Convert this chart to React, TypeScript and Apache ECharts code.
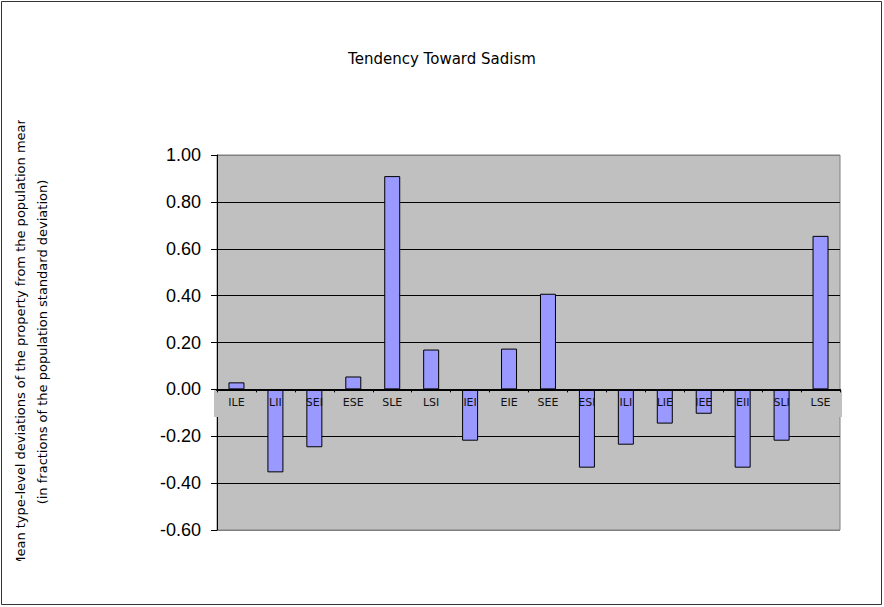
import React, { useEffect, useRef } from "react";
import * as echarts from "echarts";

const categories = ["ILE", "LII", "SEI", "ESE", "SLE", "LSI", "IEI", "EIE", "SEE", "ESI", "ILI", "LIE", "IEE", "EII", "SLI", "LSE"];
const values = [0.03, -0.354, -0.247, 0.055, 0.91, 0.17, -0.219, 0.174, 0.408, -0.334, -0.236, -0.146, -0.104, -0.334, -0.219, 0.655];
const yMin = -0.6;
const yMax = 1;
const yStep = 0.2;
const titleText = "Tendency Toward Sadism";
const yNameLine1 = "Mean type-level deviations of the property from the population mean";
const yNameLine2 = "(in fractions of the population standard deviation)";

export default function App() {
  const ref = useRef<HTMLDivElement>(null);
  useEffect(() => {
    if (!ref.current) return;
    const chart = echarts.init(ref.current, undefined, { renderer: "svg" });
    const gridTop = 155;
    const gridBottom = 77;
    const gridH = 607 - gridTop - gridBottom;
    const zeroOffset = -((0 - yMin) / (yMax - yMin)) * gridH;
    chart.setOption({
      animation: false,
      backgroundColor: "#ffffff",
      title: {
        text: titleText,
        left: 437,
        textAlign: "center",
        top: 46,
        textStyle: { fontFamily: "DejaVu Sans", fontSize: 15, fontWeight: "normal", color: "#000" },
      },
      grid: {
        left: 217,
        right: 44,
        top: gridTop,
        bottom: gridBottom,
        show: true,
        backgroundColor: "#c0c0c0",
        borderColor: "#808080",
        borderWidth: 1,
      },
      xAxis: {
        type: "category",
        data: categories,
        z: 3,
        offset: zeroOffset,
        axisLine: { onZero: false, lineStyle: { color: "#000", width: 2 } },
        axisTick: { show: true, length: 3, lineStyle: { color: "#000" } },
        axisLabel: { fontFamily: "DejaVu Sans", fontSize: 11, color: "#111", margin: 8, interval: 0 },
      },
      yAxis: {
        type: "value",
        min: yMin,
        max: yMax,
        interval: yStep,
        z: 0,
        axisLine: { show: true, lineStyle: { color: "#000", width: 1 } },
        axisTick: { show: true, length: 6, lineStyle: { color: "#000" } },
        axisLabel: {
          fontFamily: "Liberation Sans",
          fontSize: 18,
          color: "#000",
          margin: 16,
          formatter: (v: number) => v.toFixed(2),
        },
        splitLine: {
          show: true,
          lineStyle: {
            color: ["#808080", "#000", "#000", "#000", "#000", "#000", "#000", "#000", "#808080"],
            width: 1,
          },
        },
      },
      series: [
        {
          type: "bar",
          data: values,
          barWidth: 16,
          z: 2,
          itemStyle: { color: "#9999ff", borderColor: "#000", borderWidth: 1 },
        },
      ],
      graphic: [
        {
          type: "rect",
          z: 1,
          shape: { x: 214, y: 390, width: 628, height: 27 },
          style: { fill: "#c0c0c0" },
          silent: true,
        },
        {
          type: "text",
          x: 20,
          y: 342,
          rotation: Math.PI / 2,
          style: {
            text: yNameLine1,
            fontFamily: "DejaVu Sans",
            fontSize: 13,
            fill: "#000",
            textAlign: "center",
            textVerticalAlign: "middle",
          },
          z: 5,
        },
        {
          type: "text",
          x: 42,
          y: 342,
          rotation: Math.PI / 2,
          style: {
            text: yNameLine2,
            fontFamily: "DejaVu Sans",
            fontSize: 13,
            fill: "#000",
            textAlign: "center",
            textVerticalAlign: "middle",
          },
          z: 5,
        },
        {
          type: "rect",
          z: 6,
          shape: { x: 4, y: 60, width: 28, height: 60 },
          style: { fill: "#ffffff" },
          silent: true,
        },
        {
          type: "rect",
          z: 6,
          shape: { x: 4, y: 561, width: 28, height: 40 },
          style: { fill: "#ffffff" },
          silent: true,
        },
        {
          type: "rect",
          z: 7,
          shape: { x: 1.5, y: 1.5, width: 880, height: 603 },
          style: { fill: "none", stroke: "#333", lineWidth: 1 },
          silent: true,
        },
      ],
    });
    return () => chart.dispose();
  }, []);
  return (
    <div
      ref={ref}
      style={{ position: "absolute", left: 0, top: 0, width: 884, height: 607 }}
    />
  );
}
